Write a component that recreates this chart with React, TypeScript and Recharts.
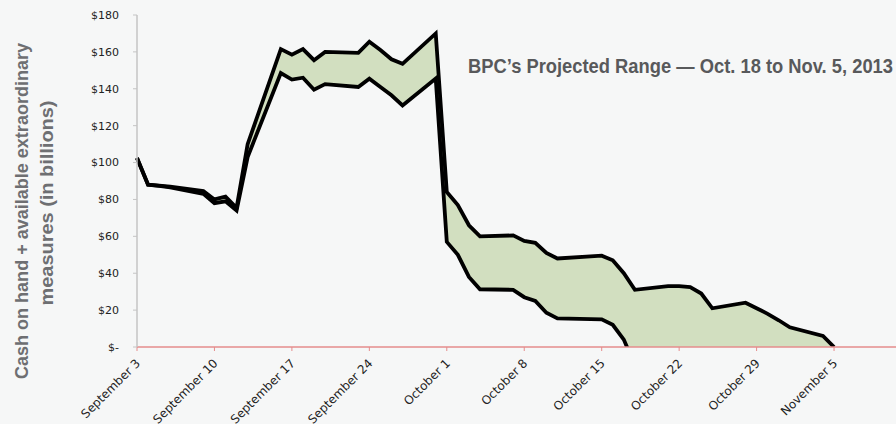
import React from "react";
import { Area, ComposedChart, Line, XAxis, YAxis } from "recharts";

// business days counted from September 3, 2013
const days = [
  0, 1, 2, 3, 6, 7, 8, 9, 10, 13, 14, 15, 16, 17, 20, 21, 22, 23, 24, 27, 28,
  29, 30, 31, 34, 35, 36, 37, 38, 42, 43, 44, 45, 48, 49, 50, 51, 52, 55, 56,
  57, 58, 59, 62, 63,
];

const upperValues = [
  102.5, 88, 87.5, 87, 84.5, 80, 81.5, 75.5, 110, 161.5, 158.5, 161.5, 155.5,
  160, 159.5, 165.5, 161, 156, 153.5, 170, 84, 77, 66, 60, 60.5, 57.5, 56.5, 51,
  48, 49.5, 47, 40, 31, 33, 33, 32.5, 29, 21, 24, 21, 18, 14.5, 10.7, 6, 0,
];

const lowerValues: (number | null)[] = [
  102.5, 88, 87.3, 86.5, 83, 78, 79, 74, 103, 148.5, 145, 146, 139.5, 142.5,
  141, 145.5, 141, 136.5, 131, 145.5, 57, 50, 38, 31.3, 31, 27, 25, 18.6, 15.5,
  15, 12, 4, -10, null, null, null, null, null, null, null, null, null, null,
  null, null,
];

const tickDays = [0, 7, 14, 21, 28, 35, 42, 49, 56, 63];
const tickLabels = [
  "September 3",
  "September 10",
  "September 17",
  "September 24",
  "October 1",
  "October 8",
  "October 15",
  "October 22",
  "October 29",
  "November 5",
];
const yTicks = [0, 20, 40, 60, 80, 100, 120, 140, 160, 180];

const data = days.map((day, i) => ({
  day,
  upper: upperValues[i],
  lower: lowerValues[i],
}));

const narrow = "'Liberation Sans', Arial, sans-serif";

function DateTick(props: any) {
  const { x, y, payload } = props;
  const label = tickLabels[tickDays.indexOf(payload.value)];
  return (
    <text
      transform={`translate(${x + 4},${y + 11}) rotate(-45)`}
      textAnchor="end"
      fontSize={12}
      fontFamily="'DejaVu Sans', Verdana, sans-serif"
      fill="#222"
    >
      {label}
    </text>
  );
}

export default function App() {
  return (
    <div
      style={{
        position: "absolute",
        left: 0,
        top: 0,
        width: 896,
        height: 424,
        background: "#f6f7f7",
        overflow: "hidden",
      }}
    >
      <ComposedChart
        width={896}
        height={424}
        data={data}
        margin={{ top: 15, right: 0, bottom: 0, left: 0 }}
      >
        <XAxis
          dataKey="day"
          type="number"
          domain={[0, 68.6]}
          ticks={tickDays}
          tick={<DateTick />}
          height={77}
          axisLine={{ stroke: "#e58c8c", strokeWidth: 1.5 }}
          tickLine={{ stroke: "#e58c8c" }}
          tickSize={4}
          interval={0}
        />
        <YAxis
          type="number"
          domain={[0, 180]}
          ticks={yTicks}
          allowDataOverflow
          width={137}
          axisLine={{ stroke: "#c4c4c4", strokeWidth: 1.5 }}
          tickLine={{ stroke: "#c4c4c4" }}
          tickSize={4}
          tickMargin={14}
          tick={{
            fontSize: 11,
            fontFamily: "'DejaVu Sans', Verdana, sans-serif",
            fill: "#222",
          }}
          tickFormatter={(v: number) => (v === 0 ? "$-" : `$${v}`)}
        />
        <Area
          type="linear"
          dataKey={(d: any) => [d.lower ?? 0, d.upper]}
          fill="#d2dfc0"
          fillOpacity={1}
          stroke="none"
          isAnimationActive={false}
          activeDot={false}
        />
        <Line
          type="linear"
          dataKey="lower"
          stroke="#000"
          strokeWidth={3.8}
          dot={false}
          activeDot={false}
          isAnimationActive={false}
        />
        <Line
          type="linear"
          dataKey="upper"
          stroke="#000"
          strokeWidth={3.8}
          dot={false}
          activeDot={false}
          isAnimationActive={false}
        />
      </ComposedChart>
      <svg
        width={896}
        height={424}
        style={{ position: "absolute", left: 0, top: 0, pointerEvents: "none" }}
      >
        <text
          transform="translate(28,211) rotate(-90)"
          textAnchor="middle"
          fontFamily={narrow}
          fontWeight="bold"
          fontSize={19}
          fill="#6e6f72"
          textLength={336}
          lengthAdjust="spacingAndGlyphs"
        >
          Cash on hand + available extraordinary
        </text>
        <text
          transform="translate(53,203) rotate(-90)"
          textAnchor="middle"
          fontFamily={narrow}
          fontWeight="bold"
          fontSize={19}
          fill="#6e6f72"
          textLength={205}
          lengthAdjust="spacingAndGlyphs"
        >
          measures (in billions)
        </text>
        <text
          x={468}
          y={73}
          fontFamily={narrow}
          fontWeight="bold"
          fontSize={21}
          fill="#58595b"
          textLength={425}
          lengthAdjust="spacingAndGlyphs"
        >
          BPC’s Projected Range — Oct. 18 to Nov. 5, 2013
        </text>
      </svg>
    </div>
  );
}
